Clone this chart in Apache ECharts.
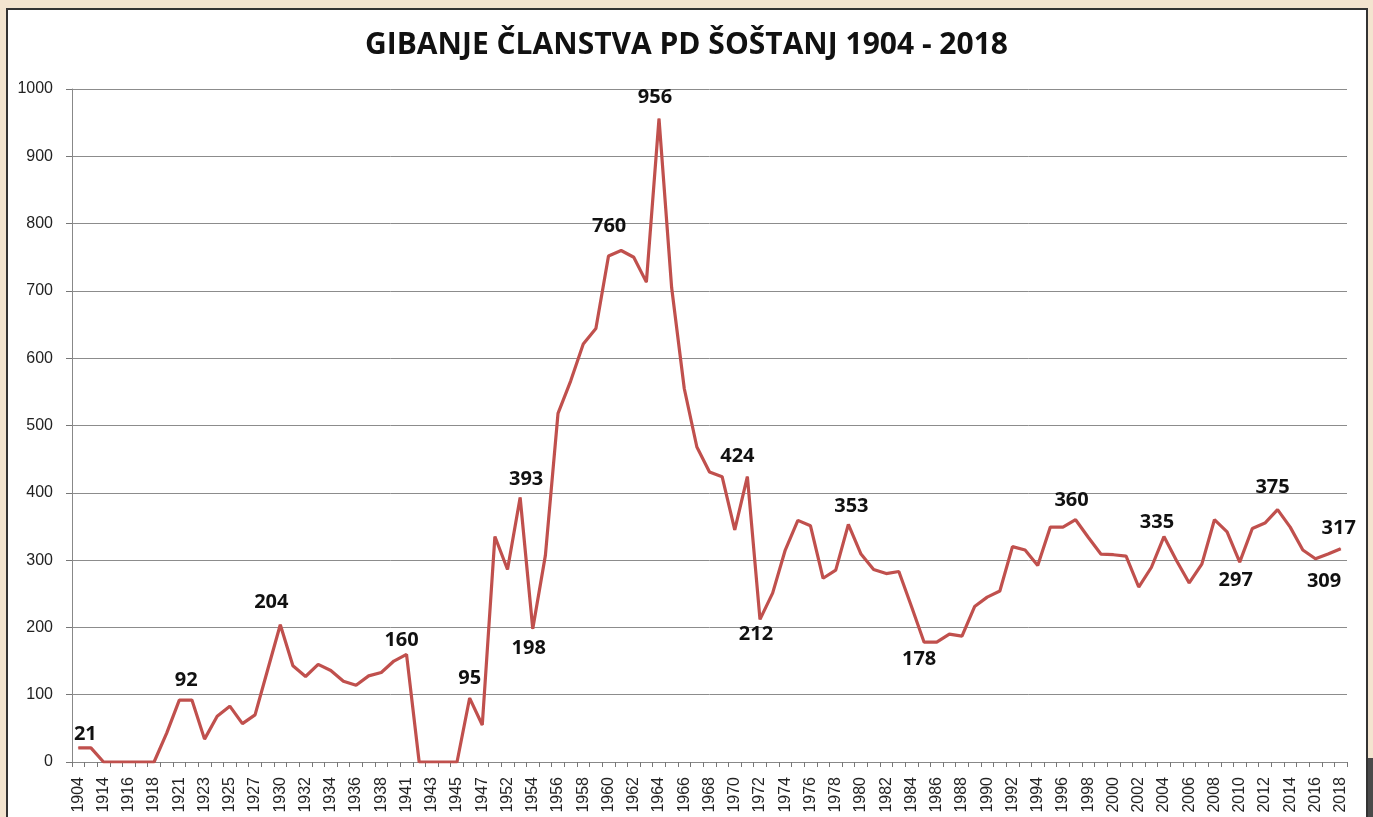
<!DOCTYPE html>
<html>
<head>
<meta charset="utf-8">
<script src="https://cdn.jsdelivr.net/npm/echarts@6/dist/echarts.min.js"></script>
<style>
  html, body { margin: 0; padding: 0; width: 1373px; height: 817px; overflow: hidden; background: #f3e4cf; }
  #panel { position: absolute; left: 6px; top: 8px; width: 1358px; height: 830px; background: #fff; border: 2px solid #333; }
  #dark { position: absolute; left: 1368px; top: 758px; width: 5px; height: 59px; background: #4a4a4a; }
  #chart { position: absolute; left: 0; top: 0; width: 1373px; height: 817px; }
</style>
</head>
<body>
<div id="panel"></div>
<div id="dark"></div>
<div id="chart"></div>
<script>
// ---- data ----
const years = [
  '1904','1910','1914','1915','1916','1917','1918','1920','1921','1922',
  '1923','1924','1925','1926','1927','1928','1930','1931','1932','1933',
  '1934','1935','1936','1937','1938','1940','1941','1942','1943','1944',
  '1945','1946','1947','1950','1952','1953','1954','1955','1956','1957',
  '1958','1959','1960','1961','1962','1963','1964','1965','1966','1967',
  '1968','1969','1970','1971','1972','1973','1974','1975','1976','1977',
  '1978','1979','1980','1981','1982','1983','1984','1985','1986','1987',
  '1988','1989','1990','1991','1992','1993','1994','1995','1996','1997',
  '1998','1999','2000','2001','2002','2003','2004','2005','2006','2007',
  '2008','2009','2010','2011','2012','2013','2014','2015','2016','2017',
  '2018'
];
const members = [
  21, 21, 0, 0, 0, 0, 0, 43, 92, 92,
  34, 68, 83, 57, 70, 137, 204, 143, 127, 145,
  136, 120, 114, 128, 133, 150, 160, 0, 0, 0,
  0, 95, 55, 335, 286, 393, 198, 307, 518, 566,
  621, 644, 752, 760, 750, 713, 956, 705, 555, 468,
  431, 424, 345, 424, 212, 251, 315, 359, 351, 273,
  285, 353, 309, 286, 280, 283, 231, 178, 178, 190,
  187, 231, 245, 254, 320, 315, 292, 349, 349, 360,
  334, 309, 308, 306, 260, 289, 335, 299, 266, 294,
  360, 342, 297, 347, 355, 375, 349, 315, 302, 309,
  317
];
// years whose value is written on the chart
const labelledYears = ['1904','1921','1930','1941','1946','1953','1954','1961','1964','1971',
  '1972','1979','1985','1997','2004','2010','2013','2017','2018'];
const yTicks = [0, 100, 200, 300, 400, 500, 600, 700, 800, 900, 1000];

// ---- label placement (style only) ----
const labelOffset = {
  '1904': [7, -14], '1921': [7, -20], '1930': [-9, -22], '1941': [-5, -14],
  '1946': [0, -20], '1953': [6, -18], '1954': [-4, 20], '1961': [-12, -24],
  '1964': [-4, -21], '1971': [-10, -20], '1972': [-4, 15], '1979': [3, -18],
  '1985': [-5, 17], '1997': [-4, -19], '2004': [-7, -14], '2010': [-4, 18],
  '2013': [-5, -22], '2017': [-4, 27], '2018': [-2, -20]
};

const seriesData = members.map((v, i) => {
  const y = years[i];
  if (labelledYears.indexOf(y) >= 0) {
    return {
      value: v,
      label: {
        show: true, position: 'inside', offset: labelOffset[y] || [0, -18],
        formatter: '{c}', color: '#111', fontWeight: 'bold', fontSize: 20,
        fontFamily: 'Open Sans'
      }
    };
  }
  return v;
});

const chart = echarts.init(document.getElementById('chart'), null, { renderer: 'canvas' });
chart.setOption({
  backgroundColor: 'transparent',
  animation: false,
  title: {
    text: 'GIBANJE ČLANSTVA PD ŠOŠTANJ 1904 - 2018',
    left: 'center', top: 25,
    textStyle: { fontFamily: 'Open Sans', fontWeight: 'bold', fontSize: 30, color: '#111' }
  },
  grid: { left: 72, right: 26, top: 89, bottom: 55, containLabel: false },
  xAxis: {
    type: 'category',
    data: years,
    boundaryGap: true,
    axisLine: { lineStyle: { color: '#888', width: 1 } },
    axisTick: { show: true, interval: 0, length: 5, lineStyle: { color: '#777' } },
    axisLabel: {
      interval: 1, rotate: 90, margin: 15, fontSize: 16,
      fontFamily: 'Liberation Sans', color: '#222'
    },
    splitLine: { show: false }
  },
  yAxis: {
    type: 'value',
    min: yTicks[0], max: yTicks[yTicks.length - 1], interval: 100,
    axisLine: { show: true, lineStyle: { color: '#888', width: 1 } },
    axisTick: { show: true, length: 6, lineStyle: { color: '#777' } },
    axisLabel: { margin: 19, fontSize: 16, fontFamily: 'Liberation Sans', color: '#222',
      formatter: (v) => String(v) },
    splitLine: { show: true, lineStyle: { color: '#8c8c8c', width: 1 } }
  },
  series: [{
    type: 'line',
    data: seriesData,
    symbol: 'circle',
    symbolSize: 1,
    showSymbol: true,
    itemStyle: { color: '#c0504d' },
    lineStyle: { color: '#c0504d', width: 3.2 },
    label: { show: false },
    emphasis: { disabled: true }
  }]
});
</script>
</body>
</html>
